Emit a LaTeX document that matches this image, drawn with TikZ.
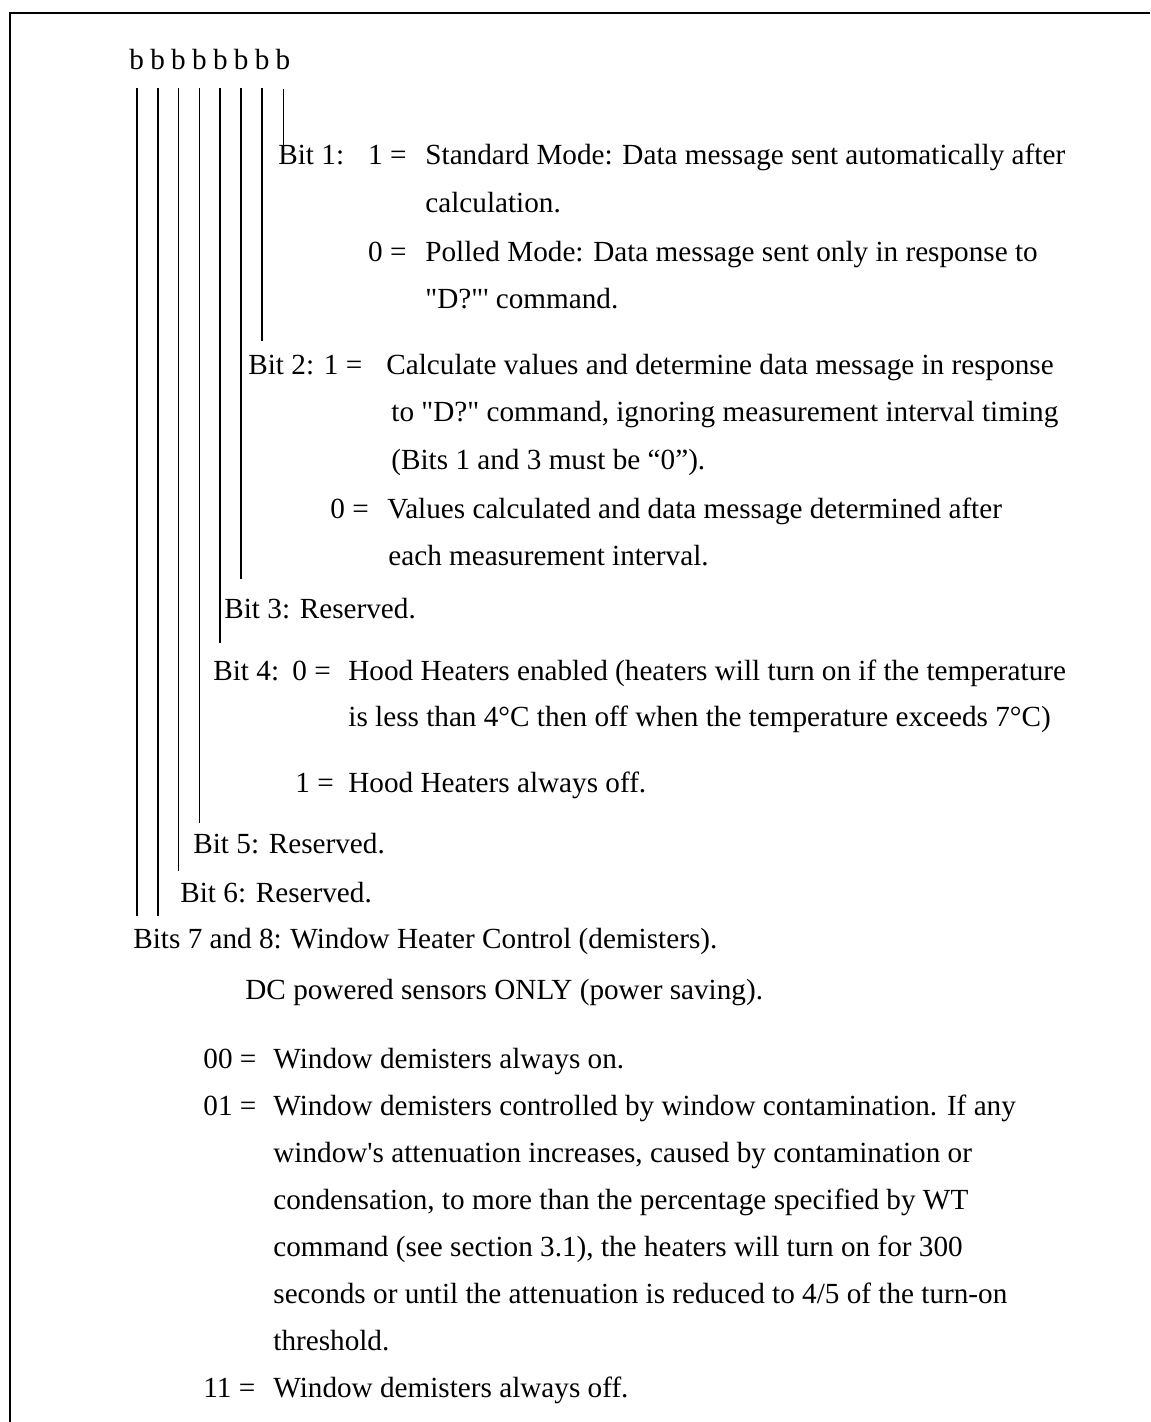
\documentclass[tikz,border=0pt]{standalone}
\usepackage{fontspec}
\setmainfont{Liberation Serif}[Ligatures=TeXOff]
\usetikzlibrary{positioning}
\tikzstyle{txt} = [anchor=base west, inner sep=0pt, font=\fontsize{14.6pt}{17pt}\selectfont]
\tikzstyle{eqs} = [txt, anchor=base east]
\tikzstyle{bchar} = [inner sep=0pt, font=\fontsize{14.6pt}{17pt}\selectfont]
\tikzstyle{bitline} = [line width=0.9pt]
\tikzstyle{frame} = [line width=1.25pt]

\begin{document}
\begin{tikzpicture}[x=0.5pt, y=-0.5pt]
\useasboundingbox (0,0) rectangle (1150,1422);
\draw [frame] (10,1422) -- (10,13) -- (1150,13);

% the eight bits, bit 8 on the left
\node (b8) [bchar, anchor=base west] at (129,70) {b};
\node (b7) [bchar, right=2.75pt of b8] {b};
\node (b6) [bchar, right=2.75pt of b7] {b};
\node (b5) [bchar, right=2.75pt of b6] {b};
\node (b4) [bchar, right=2.75pt of b5] {b};
\node (b3) [bchar, right=2.75pt of b4] {b};
\node (b2) [bchar, right=2.75pt of b3] {b};
\node (b1) [bchar, right=2.75pt of b2] {b};

% bit 1
\node (bitone) [txt] at (278,165) {Bit 1:};
\node (oneset) [eqs] at (407,165) {1 =};
\node (stdmode) [txt] at (425,165) {Standard Mode: Data message sent automatically after};
\node (stdmodeb) [txt] at (425,213) {calculation.};
\node (oneclr) [eqs] at (407,262) {0 =};
\node (polled) [txt] at (425,262) {Polled Mode: Data message sent only in response to};
\node (polledb) [txt] at (425,309) {"D?"' command.};

% bit 2
\node (bittwo) [txt] at (248,375) {Bit 2: 1 =};
\node (calc) [txt] at (386,375) {Calculate values and determine data message in response};
\node (calcb) [txt] at (391,422) {to "D?" command, ignoring measurement interval timing};
\node (calcc) [txt] at (391,469) {(Bits 1 and 3 must be “0”).};
\node (twoclr) [txt] at (330,518) {0 =};
\node (values) [txt] at (387,518) {Values calculated and data message determined after};
\node (valuesb) [txt] at (388,565) {each measurement interval.};

% bit 3
\node (bitthree) [txt] at (224,618) {Bit 3: Reserved.};

% bit 4
\node (bitfour) [txt] at (213,680) {Bit 4:};
\node (fourclr) [txt] at (292,680) {0 =};
\node (hood) [txt] at (348,680) {Hood Heaters enabled (heaters will turn on if the temperature};
\node (hoodb) [txt] at (348,726) {is less than 4°C then off when the temperature exceeds 7°C)};
\node (fourset) [txt] at (295,792) {1 =};
\node (hoodoff) [txt] at (348,792) {Hood Heaters always off.};

% bits 5 to 8
\node (bitfive) [txt] at (193,853) {Bit 5: Reserved.};
\node (bitsix) [txt] at (180,902) {Bit 6: Reserved.};
\node (bitssev) [txt] at (133,948) {Bits 7 and 8:};
\node (winctl) [txt] at (290,948) {Window Heater Control (demisters).};
\node (dconly) [txt] at (245,999) {DC powered sensors ONLY (power saving).};
\node (wzz) [txt] at (203,1068) {00 =};
\node (wzzt) [txt] at (273,1068) {Window demisters always on.};
\node (wzo) [txt] at (203,1115) {01 =};
\node (wzot) [txt] at (273,1115) {Window demisters controlled by window contamination. If any};
\node (wzob) [txt] at (273,1162) {window's attenuation increases, caused by contamination or};
\node (wzoc) [txt] at (273,1209) {condensation, to more than the percentage specified by WT};
\node (wzod) [txt] at (273,1256) {command (see section 3.1), the heaters will turn on for 300};
\node (wzoe) [txt] at (273,1303) {seconds or until the attenuation is reduced to 4/5 of the turn-on};
\node (wzof) [txt] at (273,1350) {threshold.};
\node (woo) [txt] at (203,1397) {11 =};
\node (woot) [txt] at (273,1397) {Window demisters always off.};

% lines from each bit down to its text
\draw [line width=0.5pt] ([yshift=-9pt]b1.south) -- (b1.south |- bitone.north);
\draw [bitline] ([yshift=-8.5pt]b2.south) -- ([yshift=7pt]b2.south |- bittwo.north);
\draw [bitline] ([yshift=-8.5pt]b3.south) -- ([yshift=9pt]b3.south |- bitthree.north);
\draw [bitline] ([yshift=-8.5pt]b4.south) -- ([yshift=8.5pt]b4.south |- bitfour.north);
\draw [bitline] ([yshift=-8.5pt]b5.south) -- ([yshift=4.5pt]b5.south |- bitfive.north);
\draw [bitline] ([yshift=-8.5pt]b6.south) -- ([yshift=5pt]b6.south |- bitsix.north);
\draw [bitline] ([yshift=-8.5pt]b7.south) -- ([yshift=5.5pt]b7.south |- bitssev.north);
\draw [bitline] ([yshift=-8.5pt]b8.south) -- ([yshift=5.5pt]b8.south |- bitssev.north);

\end{tikzpicture}
\end{document}
